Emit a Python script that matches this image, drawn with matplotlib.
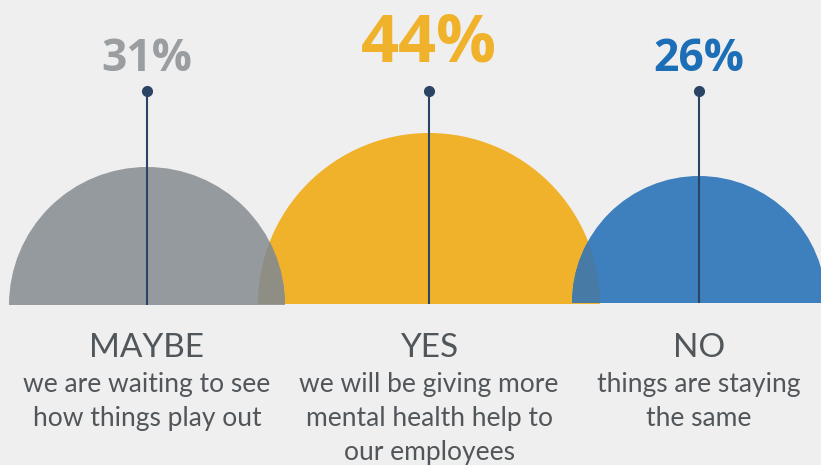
"""
Survey result shown as three overlapping half-discs with lollipop stems.
"""
import matplotlib
matplotlib.use("Agg")
import matplotlib.pyplot as plt
from matplotlib.patches import Wedge

# ---- data --------------------------------------------------------------- #
answers = ["MAYBE", "YES", "NO"]
shares = [31, 44, 26]                                    # percent of respondents
details = [
    ["we are waiting to see", "how things play out"],
    ["we will be giving more", "mental health help to", "our employees"],
    ["things are staying", "the same"],
]

# ---- layout / style (pixel space, y grows downward) --------------------- #
W, H = 821, 465
centers_x = [147, 429, 699]
radius_px = [138, 171, 127]
baseline_y = [305, 304, 303]
disc_colors = ["#959a9e", "#f0b22b", "#3e80bd"]
pct_colors = ["#9a9ea1", "#f0b22b", "#1c6fb6"]
pct_sizes = [32, 48, 32]
pct_base = [71, 62, 71]
lens_colors = {0: "#8f8e84", 2: "#477ba6"}             # disc drawn over the yellow one
stem_color = "#2b4466"
text_color = "#51565a"
bg = "#efefef"

fig = plt.figure(figsize=(W / 100, H / 100), dpi=100, facecolor=bg)
ax = fig.add_axes([0, 0, 1, 1])
ax.set_xlim(0, W)
ax.set_ylim(H, 0)
ax.axis("off")
ax.set_facecolor(bg)

# the biggest disc goes underneath, the others sit on top of it
order = sorted(range(len(shares)), key=lambda i: -shares[i])
wedges = {}
for z, i in enumerate(order):
    w = Wedge((centers_x[i], baseline_y[i]), radius_px[i], 180, 360,
              facecolor=disc_colors[i], edgecolor="none", zorder=1 + z)
    ax.add_patch(w)
    wedges[i] = w

# tinted lens where a smaller disc overlaps the big one
big = order[0]
for i, col in lens_colors.items():
    lens = Wedge((centers_x[i], baseline_y[i]), radius_px[i], 180, 360,
                 facecolor=col, edgecolor="none", zorder=5)
    ax.add_patch(lens)
    lens.set_clip_path(wedges[big])

# stems with a dot on top
for i in range(len(shares)):
    ax.plot([centers_x[i], centers_x[i]], [91, baseline_y[i]],
            color=stem_color, lw=1.5, zorder=6, solid_capstyle="butt")
    ax.plot(centers_x[i], 91, "o", ms=7, color=stem_color, zorder=7)

# percentages
for i, v in enumerate(shares):
    ax.text(centers_x[i], pct_base[i], f"{v}%", color=pct_colors[i],
            fontsize=pct_sizes[i], fontweight="bold", family="Open Sans",
            ha="center", va="baseline")

# answer + explanation
for i, a in enumerate(answers):
    ax.text(centers_x[i], 357, a, color=text_color, fontsize=24,
            family="Lato", ha="center", va="baseline")
    for k, line in enumerate(details[i]):
        ax.text(centers_x[i], 392 + 34 * k, line, color=text_color,
                fontsize=19, family="Lato", ha="center", va="baseline")

fig.savefig("out.png", dpi=100, facecolor=bg)
